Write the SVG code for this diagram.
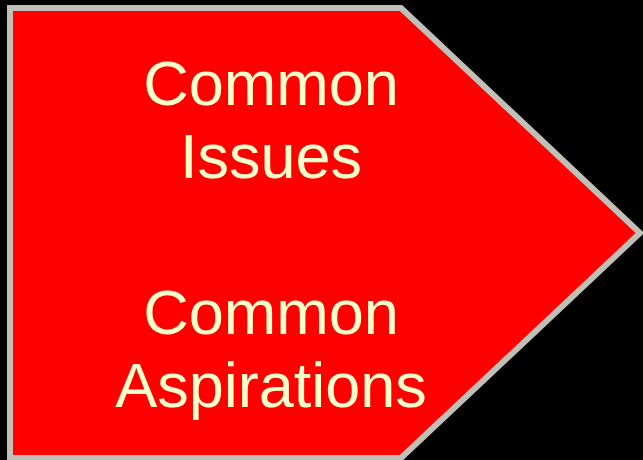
<svg xmlns="http://www.w3.org/2000/svg" width="643" height="460" viewBox="0 0 643 460">
<style>
.lbl{font-family:"Liberation Sans",Arial,sans-serif;font-size:63px;fill:#FFFFCC;text-anchor:middle}
</style>
<rect width="643" height="460" fill="#000"/>
<g id="pentagon">
<polygon points="10,8 401,8 640,233 401,458 10,458" fill="#FF0000" stroke="#C0C0B8" stroke-width="6"/>
<text class="lbl" x="271" y="105">Common</text>
<text class="lbl" x="271" y="178">Issues</text>
<text class="lbl" x="271" y="334">Common</text>
<text class="lbl" x="271" y="407">Aspirations</text>
</g>
</svg>
